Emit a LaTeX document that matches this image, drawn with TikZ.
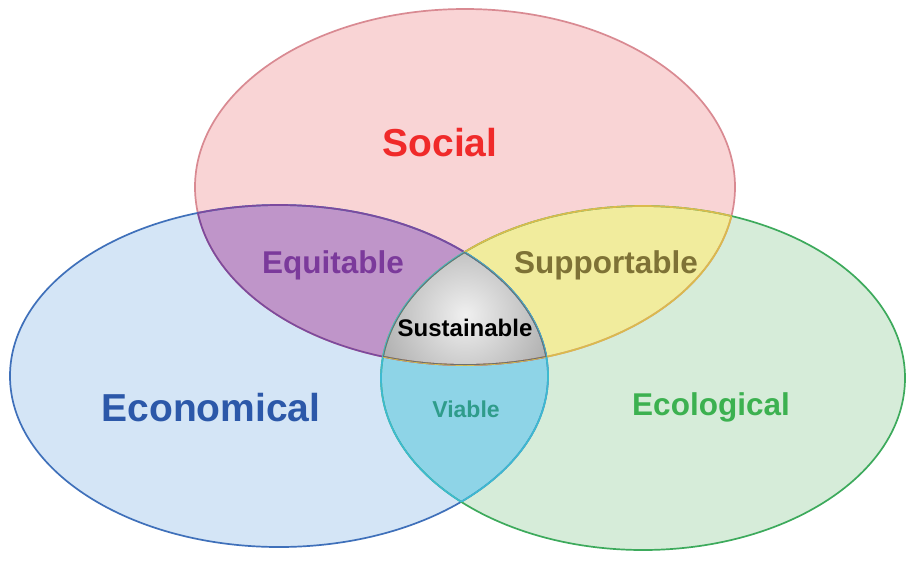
\documentclass[tikz,border=0pt]{standalone}
\usepackage{fontspec}
\setmainfont{Liberation Sans}
\definecolor{socfill}{HTML}{F9D4D5}
\definecolor{socline}{HTML}{D98A92}
\definecolor{ecofill}{HTML}{D4E5F6}
\definecolor{ecoline}{HTML}{3F70BA}
\definecolor{envfill}{HTML}{D6ECD9}
\definecolor{envline}{HTML}{3DAA5C}
\definecolor{purfill}{HTML}{BF95C9}
\definecolor{purline}{HTML}{7C4A9E}
\definecolor{yelfill}{HTML}{F1EC9D}
\definecolor{yelline}{HTML}{DABB4C}
\definecolor{cyafill}{HTML}{8ED4E7}
\definecolor{cyaline}{HTML}{3DBAD0}
\definecolor{grayline}{HTML}{6E6E6E}
\definecolor{tsoc}{HTML}{F02A2A}
\definecolor{teco}{HTML}{2C58A9}
\definecolor{tenv}{HTML}{3CB150}
\definecolor{tpur}{HTML}{7B3A9B}
\definecolor{tyel}{HTML}{7E7236}
\definecolor{tvia}{HTML}{2F9C8B}
\def\pathSoc{(465,187) ellipse [x radius=270pt, y radius=178pt]}
\def\pathEco{(279,376) ellipse [x radius=269pt, y radius=171pt]}
\def\pathEnv{(643,378) ellipse [x radius=262pt, y radius=172pt]}
\tikzset{
  lbl/.style={font=\bfseries, inner sep=0pt, anchor=center},
  edge/.style={line width=1.7pt}
}
\begin{document}
\begin{tikzpicture}[x=1pt,y=-1pt]
\useasboundingbox (0,0) rectangle (909,563);
\fill[white] (0,0) rectangle (909,563);
% base fills
\fill[socfill] \pathSoc;
\fill[ecofill] \pathEco;
\fill[envfill] \pathEnv;
% pairwise overlaps
\begin{scope}\clip \pathSoc; \fill[purfill] \pathEco; \end{scope}
\begin{scope}\clip \pathSoc; \fill[yelfill] \pathEnv; \end{scope}
\begin{scope}\clip \pathEco; \fill[cyafill] \pathEnv; \end{scope}
% triple overlap
\begin{scope}\clip \pathSoc; \clip \pathEco; \clip \pathEnv;
  \shade[inner color=gray!12, outer color=gray!62] (465,315) circle (90pt);
\end{scope}
% outer borders
\draw[edge, socline] \pathSoc;
\draw[edge, ecoline] \pathEco;
\draw[edge, envline] \pathEnv;
% overlap borders
\begin{scope}\clip \pathSoc; \draw[edge, purline] \pathEco; \draw[edge, yelline] \pathEnv; \end{scope}
\begin{scope}\clip \pathEco; \draw[edge, purline] \pathSoc; \draw[edge, cyaline] \pathEnv; \end{scope}
\begin{scope}\clip \pathEnv; \draw[edge, yelline] \pathSoc; \draw[edge, cyaline] \pathEco; \end{scope}
\begin{scope}\clip \pathSoc; \clip \pathEco; \clip \pathEnv;
  \draw[edge, grayline] \pathSoc; \draw[edge, grayline] \pathEco; \draw[edge, grayline] \pathEnv;
\end{scope}
% labels
\node[lbl, text=tsoc, font=\bfseries\fontsize{39}{40}\selectfont] (social) at (440,143) {Social};
\node[lbl, text=teco, font=\bfseries\fontsize{39}{40}\selectfont] (econ) at (211,408) {Economical};
\node[lbl, text=tenv, font=\bfseries\fontsize{31.5}{33}\selectfont] (ecol) at (711,407) {Ecological};
\node[lbl, text=tpur, font=\bfseries\fontsize{31.5}{33}\selectfont] (equit) at (333,265) {Equitable};
\node[lbl, text=tyel, font=\bfseries\fontsize{31.5}{33}\selectfont] (supp) at (606,265) {Supportable};
\node[lbl, text=black, font=\bfseries\fontsize{24}{26}\selectfont] (sust) at (465,328) {Sustainable};
\node[lbl, text=tvia, font=\bfseries\fontsize{23}{25}\selectfont] (via) at (466,409) {Viable};
\end{tikzpicture}
\end{document}
